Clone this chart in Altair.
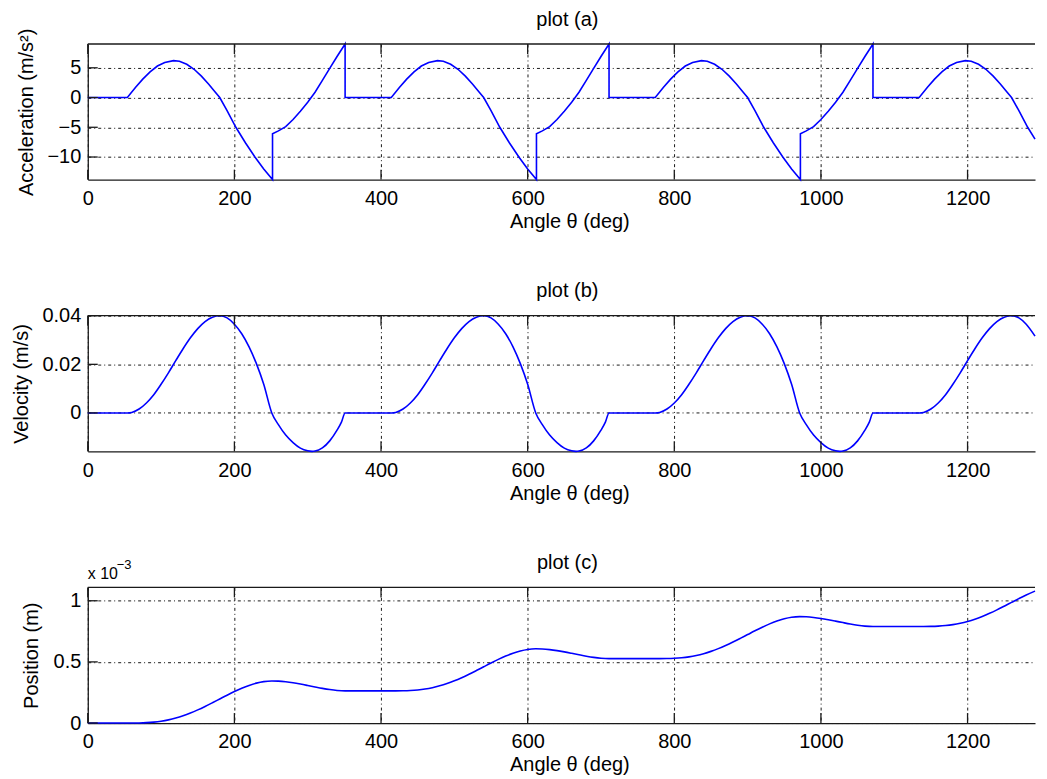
import altair as alt
import pandas as pd

FONT = "Liberation Sans"
AX = "#1a1a1a"
W = 950
H = 136
X_MAX = 1292.0

x_ticks = [0, 200, 400, 600, 800, 1000, 1200]

# ---------------- plot (a): acceleration ----------------
accel_deg = [
    0, 54, 65, 75, 85, 95, 105, 117, 125, 135, 145, 155, 165, 172, 180, 190, 202, 215, 228, 240, 252, 252,
    260, 270, 280, 290, 300, 310, 320, 330, 340, 351, 351,
    414, 425, 435, 445, 455, 465, 477, 485, 495, 505, 515, 525, 532, 540, 550, 562, 575, 588, 600, 612, 612,
    620, 630, 640, 650, 660, 670, 680, 690, 700, 711, 711,
    774, 785, 795, 805, 815, 825, 837, 845, 855, 865, 875, 885, 892, 900, 910, 922, 935, 948, 960, 972, 972,
    980, 990, 1000, 1010, 1020, 1030, 1040, 1050, 1060, 1071, 1071,
    1134, 1145, 1155, 1165, 1175, 1185, 1197, 1205, 1215, 1225, 1235, 1245, 1252, 1260, 1270, 1282, 1292,
]
accel_val = [
    0, 0, 1.7, 3.1, 4.3, 5.3, 5.9, 6.2, 6.1, 5.6, 4.75, 3.6, 2.25, 1.2, 0, -2.2, -5.0, -7.6, -10.0, -12.0, -13.8, -6.1,
    -5.6, -4.9, -3.7, -2.3, -0.8, 0.9, 2.9, 4.9, 6.9, 9.0, 0,
    0, 1.7, 3.1, 4.3, 5.3, 5.9, 6.2, 6.1, 5.6, 4.75, 3.6, 2.25, 1.2, 0, -2.2, -5.0, -7.6, -10.0, -12.0, -13.8, -6.1,
    -5.6, -4.9, -3.7, -2.3, -0.8, 0.9, 2.9, 4.9, 6.9, 9.0, 0,
    0, 1.7, 3.1, 4.3, 5.3, 5.9, 6.2, 6.1, 5.6, 4.75, 3.6, 2.25, 1.2, 0, -2.2, -5.0, -7.6, -10.0, -12.0, -13.8, -6.1,
    -5.6, -4.9, -3.7, -2.3, -0.8, 0.9, 2.9, 4.9, 6.9, 9.0, 0,
    0, 1.7, 3.1, 4.3, 5.3, 5.9, 6.2, 6.1, 5.6, 4.75, 3.6, 2.25, 1.2, 0, -2.2, -5.0, -7.0,
]
accel_ticks = [-10, -5, 0, 5]

# ---------------- plot (b): velocity ----------------
vel_deg = [
    0, 54, 60, 70, 80, 90, 100, 110, 120, 130, 140, 150, 160, 170, 180, 190, 200, 210, 220, 230, 240, 251,
    260, 270, 280, 290, 300, 306, 310, 320, 330, 340, 346, 351,
    414, 420, 430, 440, 450, 460, 470, 480, 490, 500, 510, 520, 530, 540, 550, 560, 570, 580, 590, 600, 611,
    620, 630, 640, 650, 660, 666, 670, 680, 690, 700, 706, 711,
    774, 780, 790, 800, 810, 820, 830, 840, 850, 860, 870, 880, 890, 900, 910, 920, 930, 940, 950, 960, 971,
    980, 990, 1000, 1010, 1020, 1026, 1030, 1040, 1050, 1060, 1066, 1071,
    1134, 1140, 1150, 1160, 1170, 1180, 1190, 1200, 1210, 1220, 1230, 1240, 1250, 1260, 1270, 1280, 1292,
]
vel_val = [
    0, 0, 0.0002, 0.0016, 0.0041, 0.0075, 0.0118, 0.0165, 0.0215, 0.0264, 0.0309, 0.0347, 0.0376, 0.0394, 0.0400,
    0.0391, 0.0365, 0.0326, 0.0272, 0.0203, 0.0118, 0,
    -0.0048, -0.0091, -0.0122, -0.0145, -0.0156, -0.0158, -0.0157, -0.0144, -0.0115, -0.0071, -0.0038, 0,
    0, 0.0002, 0.0016, 0.0041, 0.0075, 0.0118, 0.0165, 0.0215, 0.0264, 0.0309, 0.0347, 0.0376, 0.0394, 0.0400,
    0.0391, 0.0365, 0.0326, 0.0272, 0.0203, 0.0118, 0,
    -0.0048, -0.0091, -0.0122, -0.0145, -0.0156, -0.0158, -0.0157, -0.0144, -0.0115, -0.0071, -0.0038, 0,
    0, 0.0002, 0.0016, 0.0041, 0.0075, 0.0118, 0.0165, 0.0215, 0.0264, 0.0309, 0.0347, 0.0376, 0.0394, 0.0400,
    0.0391, 0.0365, 0.0326, 0.0272, 0.0203, 0.0118, 0,
    -0.0048, -0.0091, -0.0122, -0.0145, -0.0156, -0.0158, -0.0157, -0.0144, -0.0115, -0.0071, -0.0038, 0,
    0, 0.0002, 0.0016, 0.0041, 0.0075, 0.0118, 0.0165, 0.0215, 0.0264, 0.0309, 0.0347, 0.0376, 0.0394, 0.0400,
    0.0391, 0.0365, 0.0316,
]
vel_ticks = [0, 0.02, 0.04]

# ---------------- plot (c): position (x 10^-3 m) ----------------
pos_deg = [
    0, 54, 60, 70, 80, 90, 100, 110, 120, 130, 140, 150, 160, 170, 180, 190, 200, 210, 220, 230, 240, 251,
    260, 270, 280, 290, 300, 310, 320, 330, 340, 351,
    414, 420, 430, 440, 450, 460, 470, 480, 490, 500, 510, 520, 530, 540, 550, 560, 570, 580, 590, 600, 611,
    620, 630, 640, 650, 660, 670, 680, 690, 700, 711,
    774, 780, 790, 800, 810, 820, 830, 840, 850, 860, 870, 880, 890, 900, 910, 920, 930, 940, 950, 960, 971,
    980, 990, 1000, 1010, 1020, 1030, 1040, 1050, 1060, 1071,
    1134, 1140, 1150, 1160, 1170, 1180, 1190, 1200, 1210, 1220, 1230, 1240, 1250, 1260, 1270, 1280, 1292,
]
pos_val = [
    0, 0, 0.0001, 0.0008, 0.0030, 0.0075, 0.0150, 0.0261, 0.0410, 0.0597, 0.0821, 0.1077, 0.1359, 0.1660, 0.1970,
    0.2279, 0.2575, 0.2845, 0.3078, 0.3264, 0.3389, 0.3440,
    0.3424, 0.3370, 0.3289, 0.3186, 0.3071, 0.2951, 0.2836, 0.2737, 0.2665, 0.2632,
    0.2632, 0.2633, 0.2640, 0.2662, 0.2707, 0.2782, 0.2893, 0.3042, 0.3229, 0.3453, 0.3709, 0.3991, 0.4292, 0.4602,
    0.4911, 0.5207, 0.5477, 0.5710, 0.5896, 0.6021, 0.6072,
    0.6056, 0.6002, 0.5921, 0.5818, 0.5703, 0.5583, 0.5468, 0.5369, 0.5297, 0.5264,
    0.5264, 0.5265, 0.5272, 0.5294, 0.5339, 0.5414, 0.5525, 0.5674, 0.5861, 0.6085, 0.6341, 0.6623, 0.6924, 0.7234,
    0.7543, 0.7839, 0.8109, 0.8342, 0.8528, 0.8653, 0.8704,
    0.8688, 0.8634, 0.8553, 0.8450, 0.8335, 0.8215, 0.8100, 0.8001, 0.7929, 0.7896,
    0.7896, 0.7897, 0.7904, 0.7926, 0.7971, 0.8046, 0.8157, 0.8306, 0.8493, 0.8717, 0.8973, 0.9255, 0.9556, 0.9866,
    1.0175, 1.0471, 1.0791,
]
pos_ticks = [0, 0.5, 1]


def panel(deg, val, ydomain, yticks, ytitle, title_x, title, interp, extras=()):
    df = pd.DataFrame({"deg": deg, "val": val, "i": list(range(len(deg)))})
    xs = alt.Scale(domain=[0, X_MAX], nice=False, zero=False)
    ys = alt.Scale(domain=ydomain, nice=False, zero=False)
    x_axis = alt.Axis(values=x_ticks, format="d", title="Angle θ (deg)",
                      labelPadding=25, labelBaseline="alphabetic",
                      titleX=W / 2 + 8, titleY=48, titleBaseline="alphabetic", titleAlign="center")
    y_axis = alt.Axis(values=yticks, format="~f", title=ytitle, labelPadding=7,
                      titleX=title_x, titleY=H / 2, titleAngle=270,
                      titleBaseline="alphabetic", titleAlign="center")
    line = alt.Chart(df).mark_line(color="#0000ff", strokeWidth=1.6, interpolate=interp).encode(
        x=alt.X("deg:Q", scale=xs, axis=x_axis),
        y=alt.Y("val:Q", scale=ys, axis=y_axis),
        order=alt.Order("i:Q"),
    )
    xt = pd.DataFrame({"deg": x_ticks})
    yt = pd.DataFrame({"val": yticks})
    one = pd.DataFrame({"k": [0]})
    tb = alt.Chart(xt).mark_rule(color=AX, strokeWidth=1.3).encode(
        x=alt.X("deg:Q", scale=xs, axis=x_axis), y=alt.value(H), y2=alt.value(H - 10))
    tt = alt.Chart(xt).mark_rule(color=AX, strokeWidth=1.3).encode(
        x=alt.X("deg:Q", scale=xs, axis=x_axis), y=alt.value(0), y2=alt.value(10))
    tl = alt.Chart(yt).mark_rule(color=AX, strokeWidth=1.3).encode(
        y=alt.Y("val:Q", scale=ys, axis=y_axis), x=alt.value(0), x2=alt.value(10))
    top = alt.Chart(one).mark_rule(color=AX, strokeWidth=1.3).encode(
        x=alt.value(0), x2=alt.value(W), y=alt.value(0))
    ttl = alt.Chart(pd.DataFrame({"t": [title]})).mark_text(
        font=FONT, fontSize=20, baseline="alphabetic", align="center", color="black"
    ).encode(text="t:N", x=alt.value(W / 2 + 6), y=alt.value(-18.5))
    layers = [line, tb, tt, tl, top, ttl] + list(extras)
    return alt.layer(*layers).properties(width=W, height=H)


marker = alt.Chart(pd.DataFrame({"k": [0]})).mark_rule(color="white", strokeWidth=1).encode(
    x=alt.value(-79), x2=alt.value(-78), y=alt.value(60))

exp_base = alt.Chart(pd.DataFrame({"t": ["x 10"]})).mark_text(
    font=FONT, fontSize=16, baseline="alphabetic", align="left", color="black"
).encode(text="t:N", x=alt.value(0), y=alt.value(-8.5))
exp_sup = alt.Chart(pd.DataFrame({"t": ["\u22123"]})).mark_text(
    font=FONT, fontSize=13, baseline="alphabetic", align="left", color="black"
).encode(text="t:N", x=alt.value(29), y=alt.value(-18))

pa = panel(accel_deg, accel_val, [-13.8, 9], accel_ticks, "Acceleration (m/s²)", -55, "plot (a)", "linear",
           extras=[marker])
pb = panel(vel_deg, vel_val, [-0.0158, 0.04], vel_ticks, "Velocity (m/s)", -60, "plot (b)", "monotone")
pc = panel(pos_deg, pos_val, [0, 1.109], pos_ticks, "Position (m)", -50.5, "plot (c)", "monotone",
           extras=[exp_base, exp_sup])

chart = alt.vconcat(pa, pb, pc, spacing=136.5, bounds="flush").properties(
    padding={"left": 0, "top": 0, "right": 0, "bottom": 0}, background="white"
).configure_view(stroke="transparent").configure_axis(
    labelFont=FONT, labelFontSize=20, labelColor="black",
    titleFont=FONT, titleFontSize=20, titleFontWeight="normal", titleColor="black",
    domainColor=AX, domainWidth=1.3, ticks=False, tickSize=0,
    grid=True, gridColor="black", gridDash=[3, 3, 1, 3], gridWidth=1, gridOpacity=0.9,
    labelFlush=False, labelOverlap=False,
)

chart.save("out.html", embed_options={"renderer": "svg", "actions": False})
